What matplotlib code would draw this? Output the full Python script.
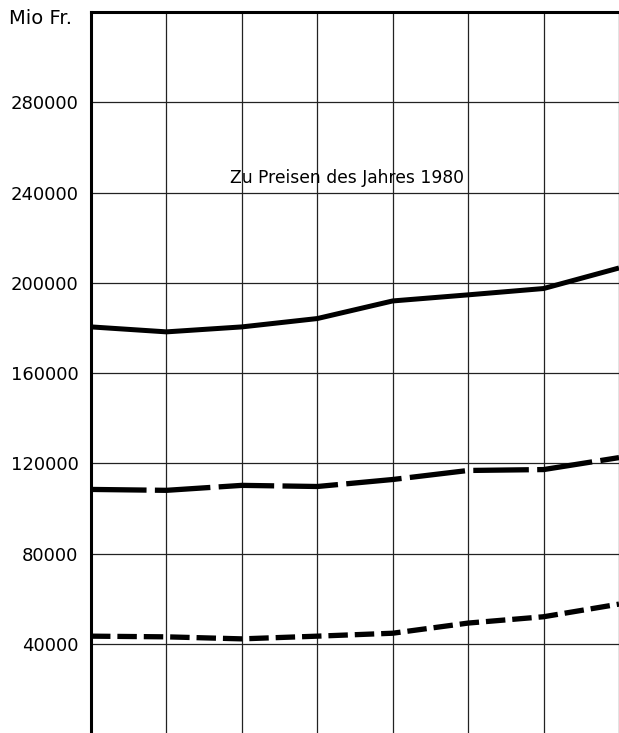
import numpy as np
import matplotlib.pyplot as plt

plt.rcParams['font.family'] = ['DejaVu Sans']
plt.rcParams['lines.scale_dashes'] = False

# Jahre als Positionen auf der x-Achse (Gitterlinien)
jahre = [0, 1, 2, 3, 4, 5, 6, 7]

# Werte in Mio Fr., zu Preisen des Jahres 1980
total = [180500, 178300, 180500, 184200, 192000, 194700, 197500, 206600]
mittel = [108500, 108100, 110300, 109800, 112900, 116900, 117300, 122600]
unten = [43500, 43200, 42300, 43500, 44800, 49300, 52100, 57700]

yticks = [40000, 80000, 120000, 160000, 200000, 240000, 280000]
ylabels = ["40000", "80000", "120000", "160000", "200000", "240000", "280000"]

fig = plt.figure(figsize=(6.19, 7.33), dpi=100)
ax = fig.add_axes([91/619, 0, 1 - 91/619, 1 - 12/733])

ax.set_xlim(0, 7)
ax.set_ylim(600, 320000)

# Gitter
for x in jahre:
    ax.axvline(x, color="#222222", lw=0.9, zorder=1)
for y in yticks:
    ax.axhline(y, color="#222222", lw=0.9, zorder=1)

ax.plot(jahre, total, color="black", lw=3.6, solid_capstyle="butt", zorder=3)
ax.plot(jahre, mittel, color="black", lw=3.8, dashes=(40, 6), zorder=3)
ax.plot(jahre, unten, color="black", lw=3.8, dashes=(14, 5), zorder=3)

ax.set_yticks(yticks)
ax.set_yticklabels(ylabels, fontsize=13)
ax.tick_params(axis="y", length=0, pad=9)
ax.set_xticks([])

for s in ["right", "bottom"]:
    ax.spines[s].set_visible(False)
ax.spines["left"].set_linewidth(2.2)
ax.spines["top"].set_linewidth(2.2)

ax.text(3.40, 244300, "Zu Preisen des Jahres 1980", fontsize=12.3,
        ha="center", va="baseline", zorder=2)

fig.text(9/619, 1 - 18/733, "Mio Fr.", fontsize=14, ha="left", va="center")

fig.savefig("out.png", dpi=100)
